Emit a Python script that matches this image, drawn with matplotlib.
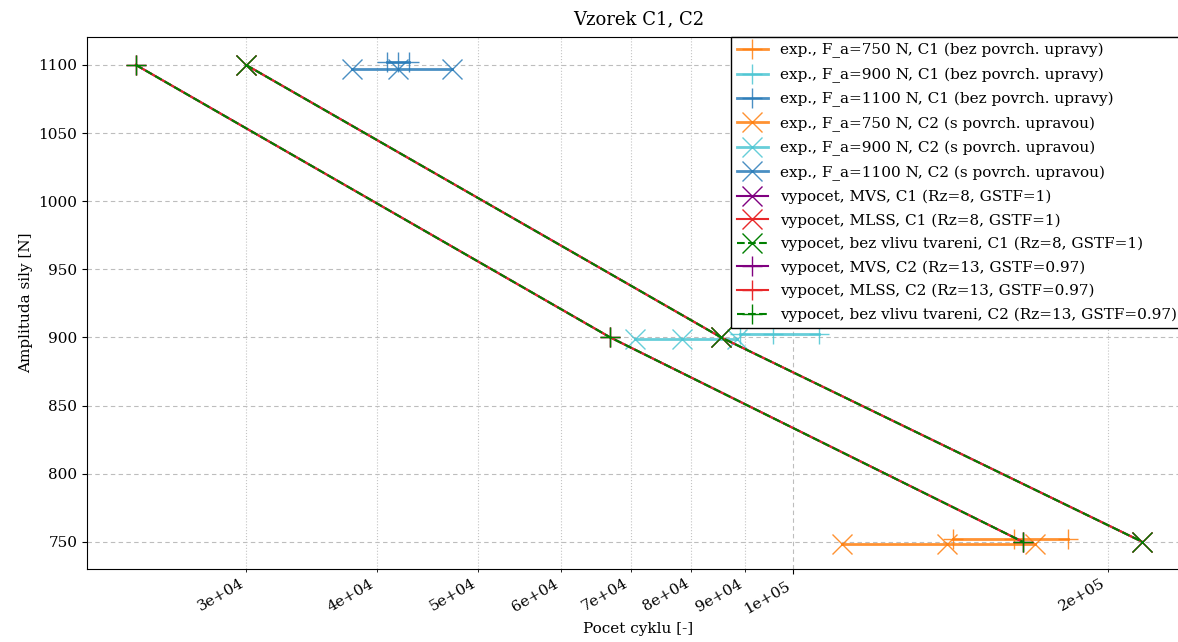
import numpy as np
import matplotlib
matplotlib.use("Agg")
import matplotlib.pyplot as plt
from matplotlib.ticker import LogLocator, FuncFormatter

plt.rcParams['font.family'] = 'DejaVu Serif'

# experimental data - C1 (bez povrchove upravy)
n_c1_750 = [142300, 162700, 183400]
f_c1_750 = [752, 752, 752]
n_c1_900 = [89000, 95700, 105900]
f_c1_900 = [902.5, 902.5, 902.5]
n_c1_1100 = [40900, 41900, 43000]
f_c1_1100 = [1102, 1102, 1102]

# experimental data - C2 (s povrchovou upravou)
n_c2_750 = [111400, 140400, 170300]
f_c2_750 = [748, 748, 748]
n_c2_900 = [70650, 78300, 88400]
f_c2_900 = [898.5, 898.5, 898.5]
n_c2_1100 = [37860, 41930, 47200]
f_c2_1100 = [1097, 1097, 1097]

# vypocet
f_calc = [1100, 900, 750]
n_c1_mvs = [30000, 85400, 215800]
n_c1_mlss = [30000, 85400, 215800]
n_c1_bez = [30000, 85400, 215800]
n_c2_mvs = [23540, 66900, 165900]
n_c2_mlss = [23540, 66900, 165900]
n_c2_bez = [23540, 66900, 165900]

orange = '#ff7f0e'
cyan = '#4cc6d3'
blue = '#2a7cb9'
ms = 14

fig = plt.figure(figsize=(11.78, 6.42), dpi=100)
ax = fig.add_axes([87 / 1178, 1 - 569 / 642, (1190 - 87) / 1178, (569 - 37) / 642])

ax.plot(n_c1_750, f_c1_750, '-+', color=orange, ms=ms, lw=2, alpha=0.85,
        label='exp., F_a=750 N, C1 (bez povrch. upravy)')
ax.plot(n_c1_900, f_c1_900, '-+', color=cyan, ms=ms, lw=2, alpha=0.85,
        label='exp., F_a=900 N, C1 (bez povrch. upravy)')
ax.plot(n_c1_1100, f_c1_1100, '-+', color=blue, ms=ms, lw=2, alpha=0.85,
        label='exp., F_a=1100 N, C1 (bez povrch. upravy)')
ax.plot(n_c2_750, f_c2_750, '-x', color=orange, ms=ms, lw=2, alpha=0.85,
        label='exp., F_a=750 N, C2 (s povrch. upravou)')
ax.plot(n_c2_900, f_c2_900, '-x', color=cyan, ms=ms, lw=2, alpha=0.85,
        label='exp., F_a=900 N, C2 (s povrch. upravou)')
ax.plot(n_c2_1100, f_c2_1100, '-x', color=blue, ms=ms, lw=2, alpha=0.85,
        label='exp., F_a=1100 N, C2 (s povrch. upravou)')

ax.plot(n_c1_mvs, f_calc, '-x', color='purple', ms=ms, lw=1.5,
        label='vypocet, MVS, C1 (Rz=8, GSTF=1)')
ax.plot(n_c1_mlss, f_calc, '-x', color='#e8282a', ms=ms, lw=1.5,
        label='vypocet, MLSS, C1 (Rz=8, GSTF=1)')
ax.plot(n_c1_bez, f_calc, '--x', color='green', ms=ms, lw=1.5,
        label='vypocet, bez vlivu tvareni, C1 (Rz=8, GSTF=1)')
ax.plot(n_c2_mvs, f_calc, '-+', color='purple', ms=ms, lw=1.5,
        label='vypocet, MVS, C2 (Rz=13, GSTF=0.97)')
ax.plot(n_c2_mlss, f_calc, '-+', color='#e8282a', ms=ms, lw=1.5,
        label='vypocet, MLSS, C2 (Rz=13, GSTF=0.97)')
ax.plot(n_c2_bez, f_calc, '--+', color='green', ms=ms, lw=1.5,
        label='vypocet, bez vlivu tvareni, C2 (Rz=13, GSTF=0.97)')

ax.set_xscale('log')
ax.set_xlim(21140, 239800)
ax.set_ylim(730, 1120.5)

fmt = FuncFormatter(lambda v, p: '%.0e' % v)
ax.xaxis.set_major_locator(LogLocator(base=10))
ax.xaxis.set_minor_locator(LogLocator(base=10, subs=np.arange(2, 10)))
ax.xaxis.set_major_formatter(fmt)
ax.xaxis.set_minor_formatter(fmt)
for lab in ax.get_xticklabels(which='both'):
    lab.set_rotation(30)
    lab.set_ha('right')
ax.tick_params(axis='both', which='both', labelsize=11)

ax.grid(which='major', linestyle=(0, (4, 3)), color='#bdbdbd', lw=0.8)
ax.grid(which='minor', axis='x', linestyle=':', color='#c4c4c4', lw=0.8)

ax.set_title('Vzorek C1, C2', fontsize=13, pad=9)
ax.set_xlabel('Pocet cyklu [-]', fontsize=11)
ax.set_ylabel('Amplituda sily [N]', fontsize=11)

fig.legend(loc='upper left', bbox_to_anchor=(731 / 1178, 1 - 37 / 642),
           borderaxespad=0, fontsize=11, labelspacing=0.6, fancybox=False,
           edgecolor='black', framealpha=1)

fig.savefig('out.png', dpi=100)
